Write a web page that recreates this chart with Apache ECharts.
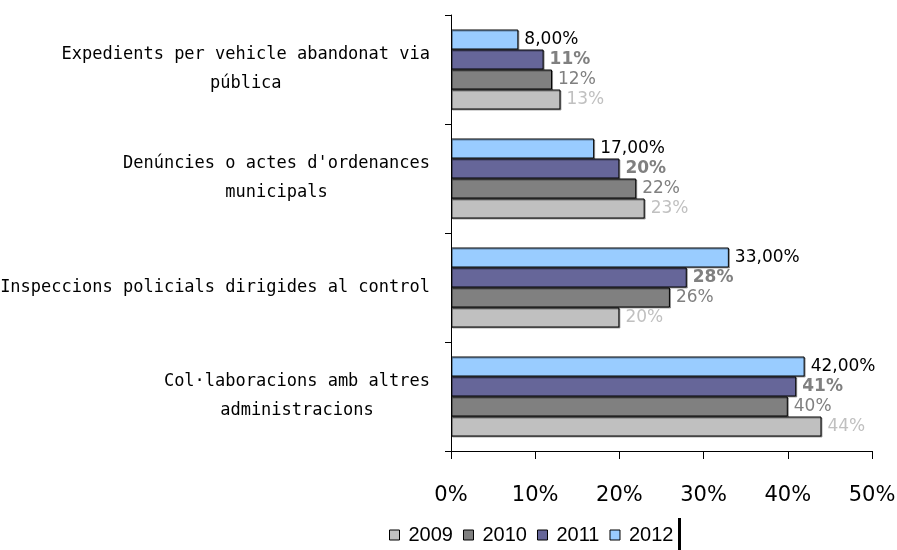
<!DOCTYPE html>
<html>
<head>
<meta charset="utf-8">
<script src="https://cdn.jsdelivr.net/npm/echarts@6/dist/echarts.min.js"></script>
<style>
html,body{margin:0;padding:0;background:#fff;}
#chart{width:897px;height:550px;}
</style>
</head>
<body>
<div id="chart"></div>
<script>
const categories = [
  "Expedients per vehicle abandonat via\npública",
  "Denúncies o actes d'ordenances\nmunicipals",
  "Inspeccions policials dirigides al control",
  "Col·laboracions amb altres\nadministracions"
];
const years = ["2009", "2010", "2011", "2012"];
const values2009 = [13, 23, 20, 44];
const values2010 = [12, 22, 26, 40];
const values2011 = [11, 20, 28, 41];
const values2012 = [8, 17, 33, 42];
const xTicks = [0, 10, 20, 30, 40, 50];

const colors = {"2009": "#C0C0C0", "2010": "#808080", "2011": "#666699", "2012": "#99CCFF"};
const labelStyles = {
  "2009": {color: "#C0C0C0", fontWeight: "normal"},
  "2010": {color: "#808080", fontWeight: "normal"},
  "2011": {color: "#808080", fontWeight: "bold"},
  "2012": {color: "#000000", fontWeight: "normal"}
};
const dataByYear = {"2009": values2009, "2010": values2010, "2011": values2011, "2012": values2012};

function mkSeries(y) {
  return {
    name: y,
    type: "bar",
    data: dataByYear[y],
    barWidth: 20,
    barGap: "0%",
    itemStyle: {
      color: colors[y], borderColor: "#000", borderWidth: 1,
      shadowColor: "rgba(0,0,0,0.35)", shadowOffsetX: 1, shadowOffsetY: 1, shadowBlur: 0
    },
    label: {
      show: true,
      position: "right",
      distance: 6,
      fontFamily: "DejaVu Sans",
      fontSize: 17,
      color: labelStyles[y].color,
      fontWeight: labelStyles[y].fontWeight,
      formatter: function (p) {
        return y === "2012" ? p.value.toFixed(2).replace(".", ",") + "%" : p.value + "%";
      }
    },
    emphasis: {disabled: true}
  };
}

const chart = echarts.init(document.getElementById("chart"), null, {renderer: "canvas"});
chart.setOption({
  animation: false,
  backgroundColor: "#fff",
  grid: {left: 451, right: 25, top: 15, bottom: 99, containLabel: false, outerBoundsMode: "none"},
  legend: {
    data: years,
    left: 384,
    top: 520,
    itemWidth: 10,
    itemHeight: 10,
    itemGap: 10,
    icon: "rect",
    selectedMode: false,
    textStyle: {fontFamily: "Liberation Sans", fontSize: 20, color: "#000", padding: [0, 0, 0, 4]},
    itemStyle: {borderColor: "#000", borderWidth: 1, shadowBlur: 0, shadowOffsetX: 0, shadowOffsetY: 0, shadowColor: "transparent"}
  },
  xAxis: {
    type: "value",
    min: xTicks[0],
    max: xTicks[xTicks.length - 1],
    interval: 10,
    splitLine: {show: false},
    axisLine: {show: true, lineStyle: {color: "#000", width: 1}},
    axisTick: {show: true, length: 8, lineStyle: {color: "#000"}},
    axisLabel: {
      margin: 34,
      fontFamily: "DejaVu Sans",
      fontSize: 21,
      color: "#000",
      formatter: "{value}%"
    }
  },
  yAxis: {
    type: "category",
    data: categories,
    inverse: true,
    axisLine: {show: true, lineStyle: {color: "#000", width: 1}},
    axisTick: {show: true, length: 6, lineStyle: {color: "#000"}},
    axisLabel: {
      margin: 21,
      align: "right",
      formatter: function (v) {
        return v.split("\n").map(function (l) { return "{c|" + l + "}"; }).join("\n");
      },
      rich: {
        c: {align: "center", fontFamily: "DejaVu Sans Mono", fontSize: 17, lineHeight: 29, color: "#000"}
      }
    }
  },
  graphic: [{
    type: "rect",
    shape: {x: 678, y: 518, width: 3, height: 32},
    style: {fill: "#000"}
  }],
  series: [mkSeries("2012"), mkSeries("2011"), mkSeries("2010"), mkSeries("2009")]
});
</script>
</body>
</html>
